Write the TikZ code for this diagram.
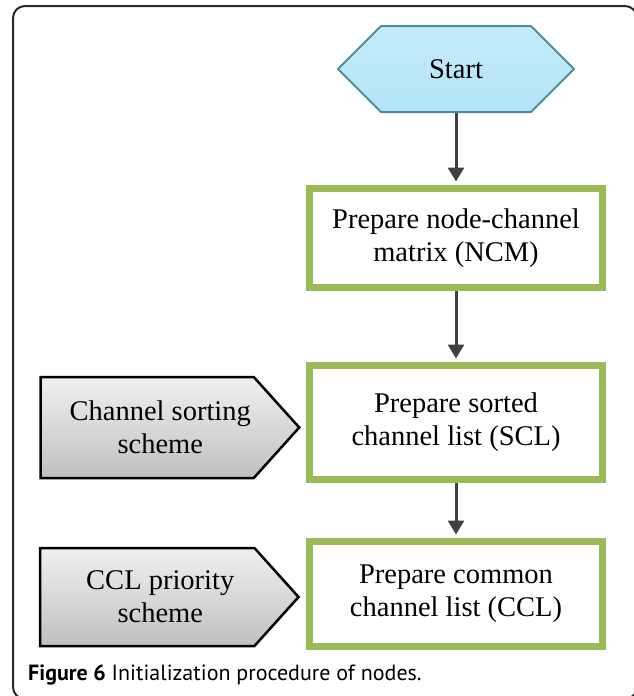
\documentclass[tikz,border=0pt]{standalone}
\usepackage{fontspec}
\setmainfont{Liberation Serif}
\setsansfont{PT Sans}
\usetikzlibrary{shapes.symbols,arrows.meta}

\definecolor{boxgreen}{RGB}{155,187,89}
\definecolor{startedge}{RGB}{78,140,156}
\definecolor{starttop}{RGB}{196,236,249}
\definecolor{startbot}{RGB}{178,228,246}
\definecolor{greytop}{RGB}{240,240,240}
\definecolor{greybot}{RGB}{192,192,192}
\definecolor{arrowgrey}{RGB}{64,64,64}
\definecolor{framegrey}{RGB}{40,40,40}

\newcommand{\bigserif}{\fontsize{28.5}{33}\selectfont}

\tikzset{
  startbox/.style={signal, signal to=east and west, draw=startedge, line width=2pt,
    top color=starttop, bottom color=startbot, minimum width=236pt, minimum height=86pt,
    font=\bigserif},
  procbox/.style={rectangle, draw=boxgreen, line width=7pt, fill=white,
    minimum width=293pt, align=center, font=\bigserif},
  schemebox/.style={signal, signal to=east, signal pointer angle=96, draw=black, line width=2.5pt,
    top color=greytop, bottom color=greybot, minimum width=258.5pt, minimum height=101pt},
  schemetext/.style={label={[xshift=13pt, align=center, font=\bigserif]center:#1}},
  flow/.style={-{Triangle[width=16pt,length=14pt]}, line width=3pt, draw=arrowgrey, shorten >=3.5pt}
}

\begin{document}
\begin{tikzpicture}[x=1pt,y=-1pt]
\useasboundingbox (0,0) rectangle (634,696);

\draw [line width=2pt, rounded corners=12pt, draw=framegrey] (13,6) rectangle (637,699);

          \node [startbox] at (456,69) (start) {Start};
   \node [procbox, minimum height=99pt] at (456,238) (ncm) {Prepare node-channel\\matrix (NCM)};
   \node [procbox, minimum height=114pt] at (456,422.5) (scl) {Prepare sorted\\channel list (SCL)};
   \node [procbox, minimum height=105pt] at (456,594) (ccl) {Prepare common\\channel list (CCL)};
%
   \node [schemebox, schemetext={Channel sorting\\scheme}] at (147.25,427.5) (sorting) {};
   \node [schemebox, minimum height=98pt, schemetext={CCL priority\\scheme}] at (147.25,597) (priority) {};
%
\draw [flow] (start) -- (ncm);
\draw [flow] (ncm) -- (scl);
\draw [flow] (scl) -- (ccl);
%
\node [anchor=base west, inner sep=0pt, font=\sffamily\fontsize{22}{26}\selectfont] at (28,680) (caption)
      {\textbf{Figure 6} Initialization procedure of nodes.};
\end{tikzpicture}
\end{document}
